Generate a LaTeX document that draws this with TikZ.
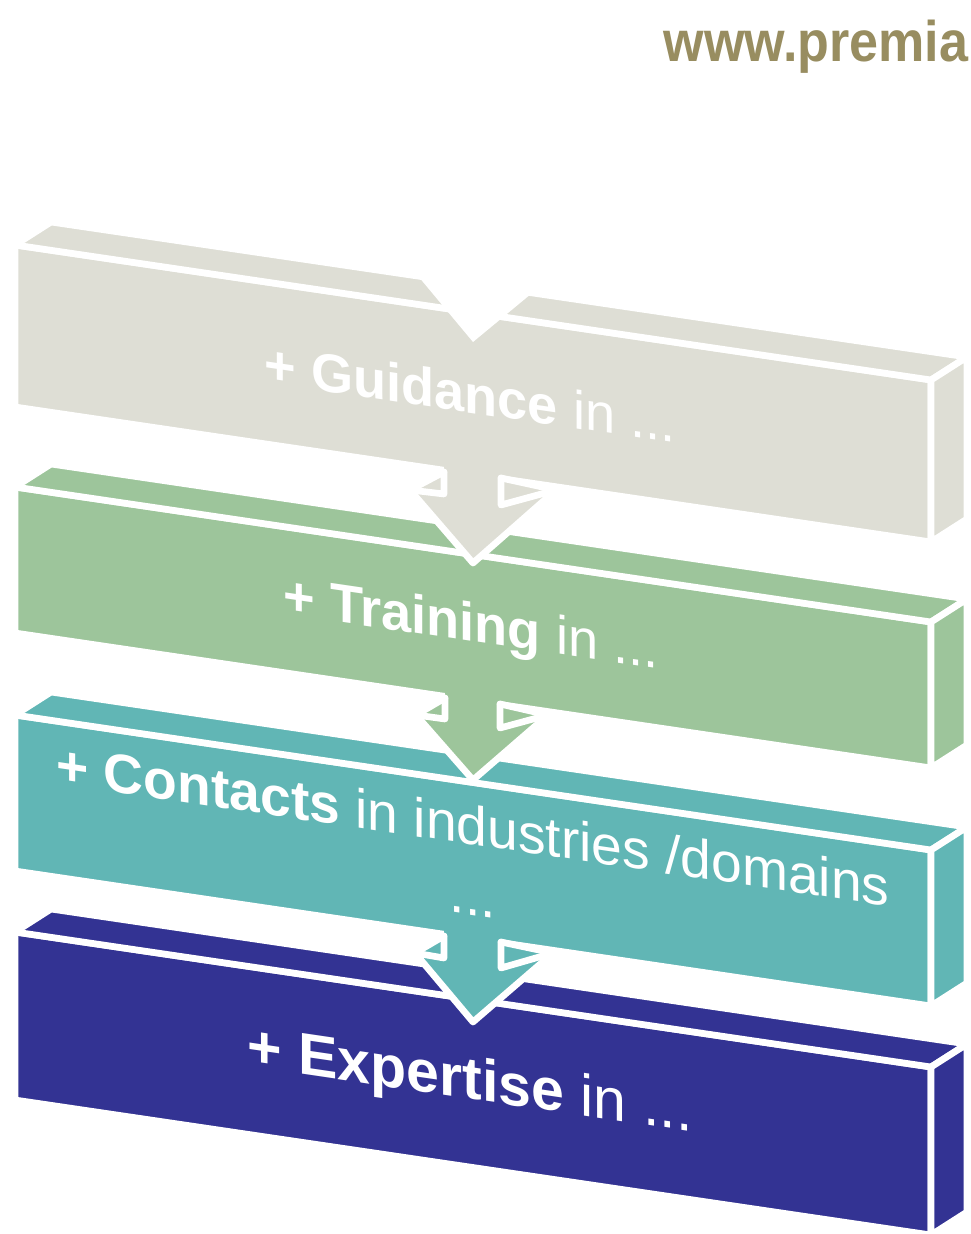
\documentclass[tikz,border=0pt]{standalone}
\usepackage{fontspec}
\setmainfont{Liberation Sans}
\usetikzlibrary{calc}

\definecolor{guidgray}{RGB}{222,222,213}
\definecolor{traingreen}{RGB}{157,197,155}
\definecolor{contteal}{RGB}{97,182,181}
\definecolor{expblue}{RGB}{51,51,147}
\definecolor{urlolive}{RGB}{152,141,96}

\begin{document}
\begin{tikzpicture}[x=0.01cm,y=-0.01cm,
  face/.style={draw=white,line width=1.9pt,line join=round},
  cut/.style={white,line width=1.9pt,line join=round,line cap=round},
  boxtext/.style={text=white,yslant=-0.1474,align=center,inner sep=0pt}]
\def\w{916}
\def\s{135}
\def\dx{36}
\def\dy{-23}
\fill[white] (0,0) rectangle (970,1234);
\useasboundingbox (0,0) rectangle (970,1234);

\node[anchor=base east,inner sep=0pt,text=urlolive,font=\bfseries\fontsize{14.8}{17}\selectfont,yscale=1.1] (url) at (969,62) {www.premia};

\begin{scope}[shift={(15,245)}] %block-1 guidance
\def\h{162}
\filldraw[guidgray,face] (0,0) -- (\w,\s) -- (\w,\s+\h) -- (0,\h) -- cycle;
\filldraw[guidgray,face] (0,0) -- (\w,\s) -- ++(\dx,\dy) -- (\dx,\dy) -- cycle;
\filldraw[guidgray,face] (\w,\s) -- (\w,\s+\h) -- ++(\dx,\dy) -- (\w+\dx,\s+\dy) -- cycle;
\fill[white] (401,23) -- (403,31) -- (458,97) -- (522,44) -- (522,36) -- cycle; % notch
\node[boxtext,font=\fontsize{15.4}{18}\selectfont] (guidance) at (455,\h/2+67.5) {\textbf{+ Guidance} in ...};
\end{scope}

\begin{scope}[shift={(15,487)}] %block-2 training
\def\h{146}
\filldraw[traingreen,face] (0,0) -- (\w,\s) -- (\w,\s+\h) -- (0,\h) -- cycle;
\filldraw[traingreen,face] (0,0) -- (\w,\s) -- ++(\dx,\dy) -- (\dx,\dy) -- cycle;
\filldraw[traingreen,face] (\w,\s) -- (\w,\s+\h) -- ++(\dx,\dy) -- (\w+\dx,\s+\dy) -- cycle;
\node[boxtext,font=\fontsize{15.4}{18}\selectfont] (training) at (456,\h/2+67.5) {\textbf{+ Training} in ...};
\end{scope}

\begin{scope}[shift={(473,474)}] %arrow 1 -> 2
\fill[guidgray] (-29,-10) -- (-29,-2) -- (-63,16) -- (0,89) -- (83,16) -- (28,4) -- (28,-10) -- cycle;
\draw[cut] (-29,-2) -- (-63,16) -- (0,89) -- (83,16) -- (28,4);
\draw[cut] (-29,-2) -- (-29,20) -- (-63,16);
\draw[cut] (28,4) -- (28,31) -- (83,16);
\end{scope}

\begin{scope}[shift={(15,715)}] %block-3 contacts
\def\h{156}
\filldraw[contteal,face] (0,0) -- (\w,\s) -- (\w,\s+\h) -- (0,\h) -- cycle;
\filldraw[contteal,face] (0,0) -- (\w,\s) -- ++(\dx,\dy) -- (\dx,\dy) -- cycle;
\filldraw[contteal,face] (\w,\s) -- (\w,\s+\h) -- ++(\dx,\dy) -- (\w+\dx,\s+\dy) -- cycle;
\node[boxtext,font=\fontsize{15.7}{20}\selectfont] (contacts) at (458,\h/2+67) {\textbf{+ Contacts} in industries /domains\\...};
\end{scope}

\begin{scope}[shift={(473,700)}] %arrow 2 -> 3
\fill[traingreen] (-28,-10) -- (-28,-2) -- (-57,15) -- (0,80) -- (75,15) -- (27,4) -- (27,-10) -- cycle;
\draw[cut] (-28,-2) -- (-57,15) -- (0,80) -- (75,15) -- (27,4);
\draw[cut] (-28,-2) -- (-28,19) -- (-57,15);
\draw[cut] (27,4) -- (27,28) -- (75,15);
\end{scope}

\begin{scope}[shift={(15,932)}] %block-4 expertise
\def\h{168}
\filldraw[expblue,face] (0,0) -- (\w,\s) -- (\w,\s+\h) -- (0,\h) -- cycle;
\filldraw[expblue,face] (0,0) -- (\w,\s) -- ++(\dx,\dy) -- (\dx,\dy) -- cycle;
\filldraw[expblue,face] (\w,\s) -- (\w,\s+\h) -- ++(\dx,\dy) -- (\w+\dx,\s+\dy) -- cycle;
\node[boxtext,font=\fontsize{16.8}{19.5}\selectfont] (expertise) at (455,\h/2+67.5) {\textbf{+ Expertise} in ...};
\end{scope}

\begin{scope}[shift={(473,938)}] %arrow 3 -> 4
\fill[contteal] (-29,-10) -- (-29,-2) -- (-58,15) -- (0,84) -- (80,15) -- (28,4) -- (28,-10) -- cycle;
\draw[cut] (-29,-2) -- (-58,15) -- (0,84) -- (80,15) -- (28,4);
\draw[cut] (-29,-2) -- (-29,20) -- (-58,15);
\draw[cut] (28,4) -- (28,30) -- (80,15);
\end{scope}

\end{tikzpicture}
\end{document}
